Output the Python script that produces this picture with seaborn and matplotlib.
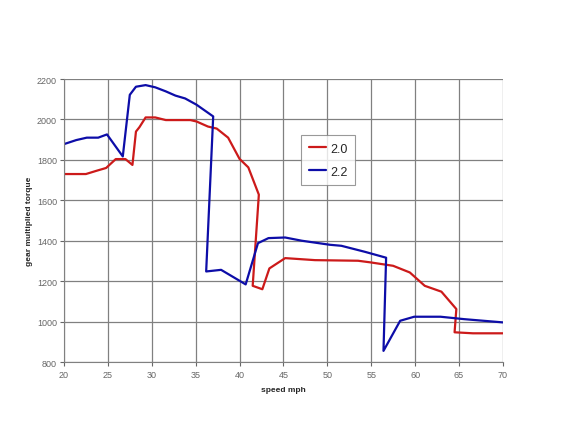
import pandas as pd
from matplotlib import pyplot as plt
import numpy as np
import seaborn as sns

# ratio 2.0
speed_20 = [20, 22.5, 23.7, 24.8, 25.9, 27.0, 27.8, 28.2, 28.6, 29.3, 30.4, 31.6, 34.4, 35.1,
            36.4, 37.4, 38.7, 40.0, 41.0, 42.2, 41.5, 42.6, 43.4, 45.2, 48.6, 53.5, 54.9,
            57.5, 59.4, 61.1, 63.0, 64.7, 64.5, 66.6, 70]
torque_20 = [1730, 1730, 1746, 1760, 1804, 1804, 1775, 1940, 1962, 2010, 2010, 1997, 1997, 1990,
             1965, 1955, 1910, 1805, 1763, 1628, 1177, 1160, 1263, 1314, 1304, 1301, 1293,
             1276, 1243, 1177, 1148, 1062, 947, 942, 942]

# ratio 2.2
speed_22 = [20, 21.4, 22.6, 23.9, 24.9, 26.7, 27.5, 28.2, 29.3, 30.4, 31.6, 32.7, 33.8, 35.1,
            37.0, 36.2, 37.9, 40.7, 42.1, 43.3, 45.2, 47.1, 50.3, 51.6, 54.3, 56.7, 56.4,
            58.3, 59.9, 62.9, 65.6, 70]
torque_22 = [1878, 1898, 1910, 1910, 1926, 1817, 2122, 2162, 2170, 2159, 2139, 2118, 2104, 2073,
             2015, 1248, 1256, 1184, 1388, 1413, 1416, 1400, 1380, 1375, 1345, 1316, 855,
             1004, 1024, 1024, 1012, 996]

df = pd.concat([
    pd.DataFrame({"speed": speed_20, "torque": torque_20, "ratio": "2.0"}),
    pd.DataFrame({"speed": speed_22, "torque": torque_22, "ratio": "2.2"}),
], ignore_index=True)

sns.set_style("white")
plt.rcParams['font.family'] = ['Liberation Sans', 'DejaVu Sans']

fig = plt.figure(figsize=(5.8, 4.35), dpi=100)
ax = fig.add_axes([0.1103, 0.1655, 0.7567, 0.6505])

sns.lineplot(data=df, x="speed", y="torque", hue="ratio", sort=False, estimator=None,
             palette={"2.0": "#cc1a1a", "2.2": "#0d0da8"}, linewidth=1.6, ax=ax)

ax.set_xlim(20, 70)
ax.set_ylim(800, 2200)
ax.set_xticks(np.arange(20, 71, 5))
ax.set_yticks(np.arange(800, 2201, 200))
ax.grid(True, color="#808080", linewidth=0.9)
for s in ["top", "right"]:
    ax.spines[s].set_visible(False)
for s in ["left", "bottom"]:
    ax.spines[s].set_color("#808080")
ax.tick_params(axis="both", labelsize=6.5, colors="#666666", length=3, direction="out",
               left=True, bottom=True)
ax.tick_params(axis="x", pad=3)
ax.tick_params(axis="y", pad=2)
ax.set_xlabel("speed mph", fontsize=6, fontweight="bold", labelpad=5)
ax.set_ylabel("gear multiplied torque", fontsize=6, fontweight="bold", labelpad=3)

leg = ax.legend(title=None, loc="upper left", bbox_to_anchor=(0.541, 0.802), fontsize=9,
                frameon=True, fancybox=False, edgecolor="#808080", handlelength=1.4,
                handletextpad=0.3, labelspacing=0.9, borderpad=0.6, borderaxespad=0)
leg.get_frame().set_linewidth(0.8)

plt.savefig("out.png", dpi=100)
